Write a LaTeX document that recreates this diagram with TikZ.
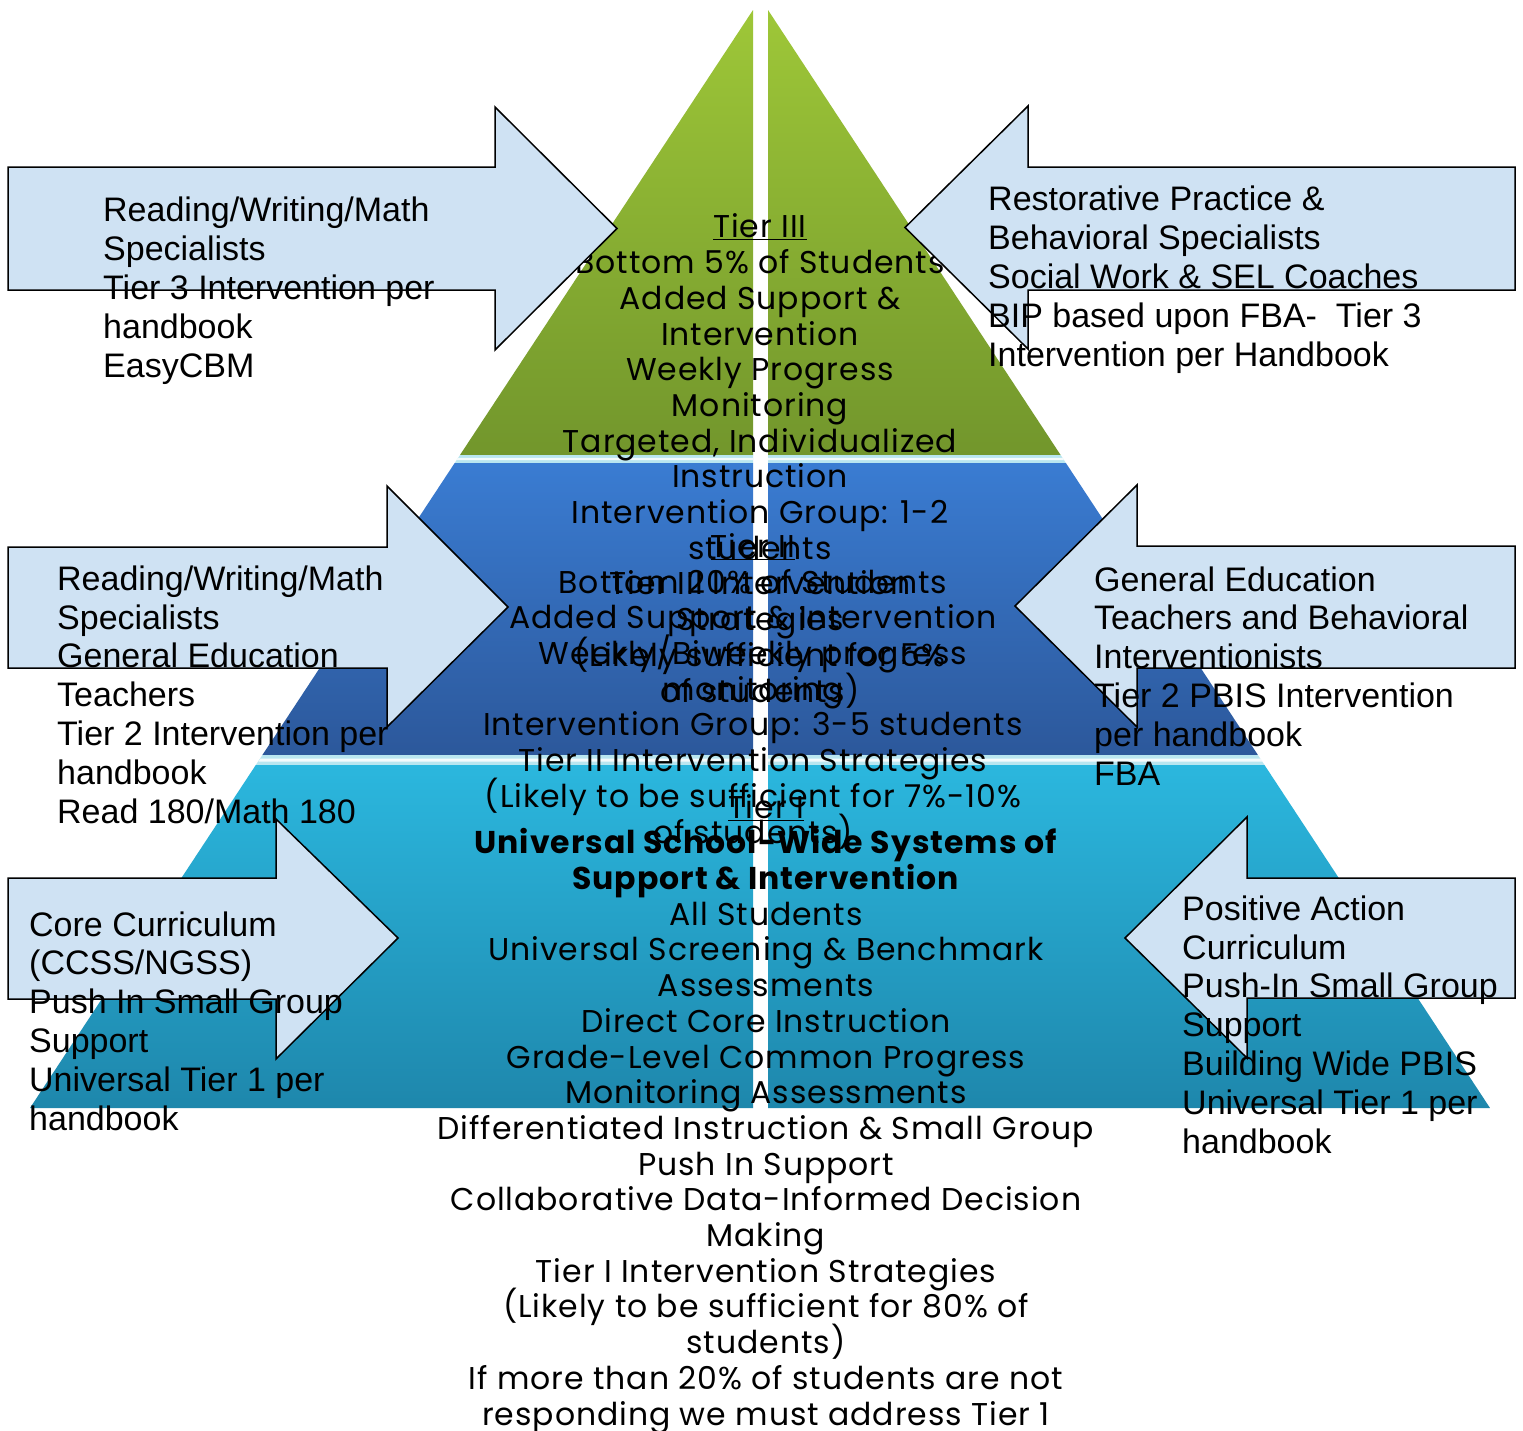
\documentclass[tikz,border=0pt]{standalone}
\usepackage{fontspec}
\setmainfont{Liberation Sans}
\newfontfamily\pyrfamily[LetterSpace=3]{Poppins}
\newcommand\pyrsize{\pyrfamily\fontsize{31.5}{35.7}\selectfont\lineskiplimit=-100pt\relax}
\newcommand\armsize{\fontsize{34}{38.8}\selectfont\lineskiplimit=-100pt\relax}
\definecolor{arrowfill}{RGB}{207,226,243}
\definecolor{tIIItop}{RGB}{158,199,56}
\definecolor{tIIIbot}{RGB}{114,150,44}
\definecolor{tIItop}{RGB}{58,124,210}
\definecolor{tIIbot}{RGB}{44,88,155}
\definecolor{tItop}{RGB}{43,183,222}
\definecolor{tIbot}{RGB}{30,135,172}
\definecolor{sepcol}{RGB}{185,230,240}
\begin{document}
\begin{tikzpicture}[x=1pt,y=1pt,
  arrowbox/.style={fill=arrowfill, draw=black, line width=1.5pt, line join=miter},
  armtext/.style={font=\armsize, align=left, anchor=base west, inner sep=0pt},
  pyrtext/.style={font=\pyrsize, align=center, anchor=base, inner sep=0pt},
  sepband/.style={fill=sepcol},
  sepline/.style={fill=white, opacity=0.85},
]
\useasboundingbox (0,0) rectangle (1523,-1430);
\fill[white] (0,0) rectangle (1523,-1430);

% ---- Tier III (green) ----
\shade[top color=tIIItop, bottom color=tIIIbot] (753,-10) -- (460,-455) -- (753,-455) -- cycle;
\shade[top color=tIIItop, bottom color=tIIIbot] (768,-10) -- (768,-455) -- (1060.6,-455) -- cycle;
% separator
\fill[sepband] (460,-455) -- (454.7,-463) -- (753,-463) -- (753,-455) -- cycle;
\fill[sepband] (768,-455) -- (768,-463) -- (1065.9,-463) -- (1060.6,-455) -- cycle;
\fill[sepline] (458,-457.8) -- (456.5,-460.2) -- (753,-460.2) -- (753,-457.8) -- cycle;
\fill[sepline] (768,-457.8) -- (768,-460.2) -- (1064,-460.2) -- (1062.5,-457.8) -- cycle;

% ---- Tier II (blue) ----
\shade[top color=tIItop, bottom color=tIIbot] (454.7,-463) -- (262.4,-755) -- (753,-755) -- (753,-463) -- cycle;
\shade[top color=tIItop, bottom color=tIIbot] (768,-463) -- (768,-755) -- (1257.9,-755) -- (1065.9,-463) -- cycle;
\fill[sepband] (262.4,-755) -- (255.8,-765) -- (753,-765) -- (753,-755) -- cycle;
\fill[sepband] (768,-755) -- (768,-765) -- (1264.5,-765) -- (1257.9,-755) -- cycle;
\fill[sepline] (260.5,-758.5) -- (258.5,-761.5) -- (753,-761.5) -- (753,-758.5) -- cycle;
\fill[sepline] (768,-758.5) -- (768,-761.5) -- (1262.5,-761.5) -- (1260.5,-758.5) -- cycle;

% ---- Tier I (cyan) ----
\shade[top color=tItop, bottom color=tIbot] (255.8,-765) -- (30,-1108) -- (753,-1108) -- (753,-765) -- cycle;
\shade[top color=tItop, bottom color=tIbot] (768,-765) -- (768,-1108) -- (1490,-1108) -- (1264.5,-765) -- cycle;

% ---- pyramid texts (anchor = baseline of last line) ----
\node[pyrtext] (tierthree) at (760,-702) {\underline{Tier III}\\Bottom 5\% of Students\\Added Support \&\\Intervention\\Weekly Progress\\Monitoring\\Targeted, Individualized\\Instruction\\Intervention Group: 1-2\\students\\Tier III Intervention\\Strategies\\(Likely sufficient for 5\%\\of students)};
\node[pyrtext] (tiertwo) at (753,-843) {\underline{Tier II}\\Bottom 20\% of Students\\Added Support \& Intervention\\Weekly/Biweekly progress\\monitoring\\Intervention Group: 3-5 students\\Tier II Intervention Strategies\\(Likely to be sufficient for 7\%-10\%\\of students)};
\node[pyrtext] (tierone) at (766,-1425) {\underline{Tier I}\\\textbf{Universal School-Wide Systems of}\\\textbf{Support \& Intervention}\\All Students\\Universal Screening \& Benchmark\\Assessments\\Direct Core Instruction\\Grade-Level Common Progress\\Monitoring Assessments\\Differentiated Instruction \& Small Group\\Push In Support\\Collaborative Data-Informed Decision\\Making\\Tier I Intervention Strategies\\(Likely to be sufficient for 80\% of\\students)\\If more than 20\% of students are not\\responding we must address Tier 1};

% ---- block arrows ----
\draw[arrowbox] (8,-167) -- (495,-167) -- (495,-107) -- (617,-228.5) -- (495,-350) -- (495,-290) -- (8,-290) -- cycle;
\draw[arrowbox] (1515,-167) -- (1028,-167) -- (1028,-106) -- (905,-227.5) -- (1028,-349) -- (1028,-290) -- (1515,-290) -- cycle;
\draw[arrowbox] (8,-547) -- (387,-547) -- (387,-486) -- (508,-607) -- (387,-727) -- (387,-668) -- (8,-668) -- cycle;
\draw[arrowbox] (1515,-546) -- (1137,-546) -- (1137,-485) -- (1015,-606) -- (1137,-727) -- (1137,-668) -- (1515,-668) -- cycle;
\draw[arrowbox] (8,-878) -- (276,-878) -- (276,-819) -- (398,-938) -- (276,-1059) -- (276,-999) -- (8,-999) -- cycle;
\draw[arrowbox] (1515,-878) -- (1247,-878) -- (1247,-817) -- (1125,-938) -- (1247,-1058) -- (1247,-998) -- (1515,-998) -- cycle;

% ---- arrow texts (anchor = baseline of last line) ----
\node[armtext] (leftthree) at (103,-377) {Reading/Writing/Math\\Specialists\\Tier 3 Intervention per\\handbook\\EasyCBM};
\node[armtext] (rightthree) at (988,-366) {Restorative Practice \&\\Behavioral Specialists\\Social Work \& SEL Coaches\\BIP based upon FBA-\ \ Tier 3\\Intervention per Handbook};
\node[armtext] (lefttwo) at (57,-823) {Reading/Writing/Math\\Specialists\\General Education\\Teachers\\Tier 2 Intervention per\\handbook\\Read 180/Math 180};
\node[armtext] (righttwo) at (1094,-785) {General Education\\Teachers and Behavioral\\Interventionists\\Tier 2 PBIS Intervention\\per handbook\\FBA};
\node[armtext] (leftone) at (29,-1130) {Core Curriculum\\(CCSS/NGSS)\\Push In Small Group\\Support\\Universal Tier 1 per\\handbook};
\node[armtext] (rightone) at (1182,-1153) {Positive Action\\Curriculum\\Push-In Small Group\\Support\\Building Wide PBIS\\Universal Tier 1 per\\handbook};
\end{tikzpicture}
\end{document}
